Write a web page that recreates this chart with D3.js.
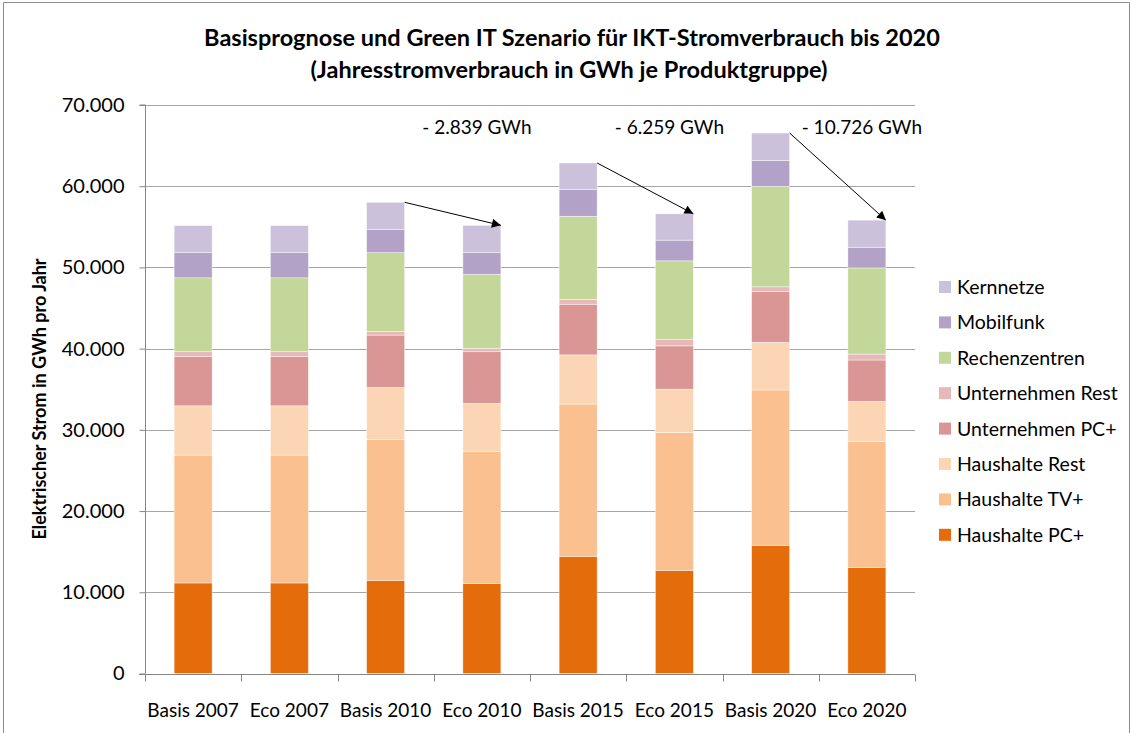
<!DOCTYPE html>
<html lang="de">
<head>
<meta charset="utf-8">
<title>IKT-Stromverbrauch bis 2020</title>
<script src="https://cdn.jsdelivr.net/npm/d3@7"></script>
<style>
  html, body { margin: 0; padding: 0; background: #fff; }
  svg { display: block; font-family: Lato, "Open Sans", sans-serif; }
</style>
</head>
<body>
<svg id="chart" width="1131" height="733"></svg>
<script>
// Scenario columns
const categories = ["Basis 2007", "Eco 2007", "Basis 2010", "Eco 2010", "Basis 2015", "Eco 2015", "Basis 2020", "Eco 2020"];

// Annual consumption per product group in GWh (stacked bottom to top)
const haushaltePC     = [11150, 11150, 11440, 11100, 14430, 12700, 15790, 13060];
const haushalteTV     = [15740, 15740, 17380, 16260, 18750, 16980, 19120, 15520];
const haushalteRest   = [ 6070,  6070,  6400,  5900,  6050,  5330,  5870,  4920];
const unternehmenPC   = [ 6090,  6090,  6450,  6360,  6240,  5330,  6280,  5100];
const unternehmenRest = [  570,   570,   460,   420,   590,   770,   550,   730];
const rechenzentren   = [ 9100,  9100,  9690,  9110, 10240,  9700, 12380, 10610];
const mobilfunk       = [ 3110,  3110,  2870,  2660,  3280,  2550,  3190,  2550];
const kernnetze       = [ 3320,  3320,  3330,  3371,  3280,  3241,  3370,  3334];

const seriesNames = ["Haushalte PC+", "Haushalte TV+", "Haushalte Rest", "Unternehmen PC+", "Unternehmen Rest", "Rechenzentren", "Mobilfunk", "Kernnetze"];
const seriesValues = [haushaltePC, haushalteTV, haushalteRest, unternehmenPC, unternehmenRest, rechenzentren, mobilfunk, kernnetze];
const seriesColors = ["#E46C0A", "#FAC090", "#FCD5B5", "#D99694", "#E6B9B8", "#C4D79B", "#B3A2C7", "#CCC1DA"];

const yTicks = [0, 10000, 20000, 30000, 40000, 50000, 60000, 70000];

// Basis -> Eco comparisons annotated with the saving
const comparisons = [["Basis 2010", "Eco 2010"], ["Basis 2015", "Eco 2015"], ["Basis 2020", "Eco 2020"]];

const de = d3.formatLocale({ decimal: ",", thousands: ".", grouping: [3], currency: ["", " €"] });
const fmt = de.format(",.0f");

const rows = categories.map((c, i) => {
  const r = { cat: c };
  seriesNames.forEach((s, j) => { r[s] = seriesValues[j][i]; });
  return r;
});
const stacked = d3.stack().keys(seriesNames)(rows);
const totals = Object.fromEntries(rows.map(r => [r.cat, d3.sum(seriesNames, s => r[s])]));

const svg = d3.select("#chart");
const plot = { left: 145, right: 915, top: 105, bottom: 673.5 };

// chart frame
svg.append("path")
  .attr("d", "M3.5,733 V2.5 H1129.5 V733")
  .attr("fill", "none").attr("stroke", "#8c8c8c").attr("stroke-width", 1);

const x = d3.scaleBand().domain(categories).range([plot.left, plot.right]).padding(0);
const barW = x.bandwidth() * 0.395;
const y = d3.scaleLinear().domain([0, 70000]).range([plot.bottom, plot.top]);

// gridlines
svg.append("g")
  .selectAll("line").data(yTicks.filter(t => t > 0)).join("line")
  .attr("x1", plot.left).attr("x2", plot.right)
  .attr("y1", d => Math.round(y(d)) + 0.5).attr("y2", d => Math.round(y(d)) + 0.5)
  .attr("stroke", "#a6a6a6").attr("stroke-width", 1);

// stacked bars
svg.append("g")
  .selectAll("g").data(stacked).join("g")
  .attr("fill", (d, i) => seriesColors[i])
  .selectAll("rect").data(d => d).join("rect")
  .attr("x", d => x(d.data.cat) + (x.bandwidth() - barW) / 2)
  .attr("width", barW)
  .attr("y", d => y(d[1]))
  .attr("height", d => y(d[0]) - y(d[1]))
  .attr("stroke", "#ffffff").attr("stroke-width", 0.6).attr("stroke-opacity", 0.7);

// y axis
const yAxis = d3.axisLeft(y).tickValues(yTicks).tickSize(6).tickPadding(15)
  .tickFormat(d => d === 0 ? "0" : fmt(d));
const gy = svg.append("g").attr("transform", `translate(${plot.left + 0.5},0)`).call(yAxis);
gy.select(".domain").attr("stroke", "#868686").attr("d", `M-6,${y(70000)}H0V${plot.bottom}`);
gy.selectAll(".tick line").attr("stroke", "#868686");
gy.selectAll(".tick text").attr("font-size", 20).attr("fill", "#000").attr("font-family", "Lato, sans-serif");

// x axis with boundary ticks
const gx = svg.append("g").attr("transform", `translate(0,${Math.round(plot.bottom) + 0.5})`);
gx.append("line").attr("x1", plot.left - 6).attr("x2", plot.right).attr("stroke", "#868686");
const bounds = categories.map(c => x(c)).concat([plot.right]);
gx.selectAll("line.tb").data(bounds).join("line").attr("class", "tb")
  .attr("x1", d => Math.round(d) + 0.5).attr("x2", d => Math.round(d) + 0.5)
  .attr("y1", 0).attr("y2", 7).attr("stroke", "#868686");
gx.selectAll("text").data(categories).join("text")
  .attr("x", d => x(d) + x.bandwidth() / 2).attr("y", 42)
  .attr("text-anchor", "middle").attr("font-size", 19).attr("fill", "#000")
  .text(d => d);

// title
const title = svg.append("text").attr("text-anchor", "middle").attr("font-weight", "bold")
  .attr("font-size", 23.5).attr("fill", "#000");
title.append("tspan").attr("x", 572).attr("y", 46).text("Basisprognose und Green IT Szenario für IKT-Stromverbrauch bis 2020");
title.append("tspan").attr("x", 569).attr("y", 78).text("(Jahresstromverbrauch in GWh je Produktgruppe)");

// y axis title
svg.append("text")
  .attr("transform", "translate(46,399) rotate(-90)")
  .attr("text-anchor", "middle").attr("font-weight", "bold").attr("font-size", 18)
  .attr("fill", "#000")
  .text("Elektrischer Strom in GWh pro Jahr");

// savings arrows and labels
svg.append("defs").append("marker")
  .attr("id", "arrowhead").attr("viewBox", "0 0 10 10")
  .attr("refX", 10).attr("refY", 5)
  .attr("markerWidth", 11).attr("markerHeight", 9).attr("markerUnits", "userSpaceOnUse")
  .attr("orient", "auto")
  .append("path").attr("d", "M0,0 L10,5 L0,10 Z").attr("fill", "#000");

const ann = svg.append("g");
comparisons.forEach(([a, b]) => {
  const xa = x(a) + (x.bandwidth() + barW) / 2;
  const xb = x(b) + (x.bandwidth() + barW) / 2;
  ann.append("line")
    .attr("x1", xa).attr("y1", y(totals[a]))
    .attr("x2", xb).attr("y2", y(totals[b]))
    .attr("stroke", "#000").attr("stroke-width", 1)
    .attr("marker-end", "url(#arrowhead)");
  ann.append("text")
    .attr("x", x(b) + x.bandwidth() / 2 - 5).attr("y", 134)
    .attr("text-anchor", "middle").attr("font-size", 19).attr("fill", "#000")
    .text("- " + fmt(totals[a] - totals[b]) + " GWh");
});

// legend, top entry is the topmost stack segment
const legendItems = seriesNames.map((n, i) => ({ name: n, color: seriesColors[i] })).reverse();
const lg = svg.append("g").attr("transform", "translate(939,281)");
const li = lg.selectAll("g").data(legendItems).join("g")
  .attr("transform", (d, i) => `translate(0,${i * 35.4})`);
li.append("rect").attr("width", 12).attr("height", 12).attr("fill", d => d.color);
li.append("text").attr("x", 18).attr("y", 6).attr("dy", "0.36em")
  .attr("font-size", 19.5).attr("fill", "#000").text(d => d.name);
</script>
</body>
</html>
